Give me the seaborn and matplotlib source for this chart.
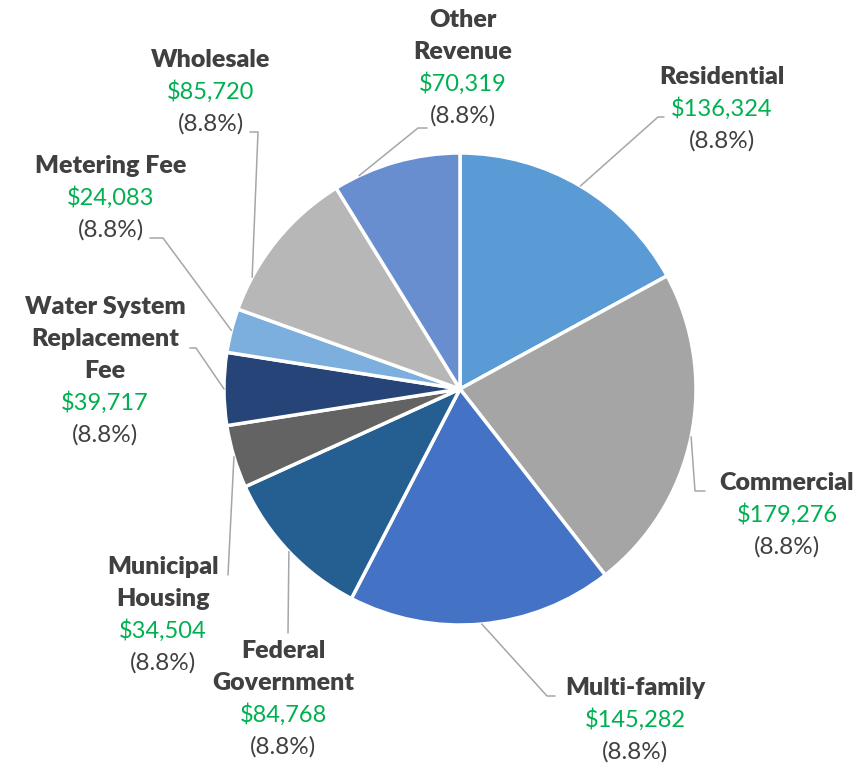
import numpy as np
import matplotlib.pyplot as plt
import seaborn as sns

# ---------------------------------------------------------------------
# Data (clockwise from 12 o'clock)
# ---------------------------------------------------------------------
categories = ["Residential", "Commercial", "Multi-family", "Federal\nGovernment",
              "Municipal\nHousing", "Water System\nReplacement\nFee",
              "Metering Fee", "Wholesale", "Other\nRevenue"]
revenue = [136324, 179276, 145282, 84768, 34504, 39717, 24083, 85720, 70319]
pct_labels = ["(8.8%)"] * 9

colors = ["#5B9BD5", "#A5A5A5", "#4472C4", "#255E91", "#636363",
          "#264478", "#7CAFDD", "#B7B7B7", "#698ED0"]

# label layout: text centre x, first line centre y (image pixels),
# leader path after the wedge point, and where along the wedge the leader starts
label_pos = [(722, 77), (787, 483), (635, 688), (283, 651), (163, 567),
             (105, 307), (111, 166), (211, 60), (463, 20)]
leader_paths = [[(658, 117), (664, 117)],
                [(695, 491), (705, 491)],
                [(547, 696), (555, 696)],
                [(288, 633)],
                [(228, 575)],
                [(196, 348), (190, 348)],
                [(163, 238), (150, 238)],
                [(258, 132), (250, 132)],
                [(418, 128), (427, 128)]]
leader_frac = [0.5, 0.5, 0.5, 0.5, 0.5, 0.5, 0.5, 0.22, 0.2]

W, H = 867, 767
CX, CY, R = 460, 389, 236
LINE = 32

sns.set_theme(style="white")
plt.rcParams['font.family'] = ['Lato', 'DejaVu Sans']

fig = plt.figure(figsize=(W / 100, H / 100), dpi=100)
ax = fig.add_axes([0, 0, 1, 1])

wedges, _ = ax.pie(revenue, colors=sns.color_palette(colors), startangle=90,
                   counterclock=False, radius=R, center=(CX, H - CY),
                   wedgeprops=dict(edgecolor="white", linewidth=2.5))
ax.set_xlim(0, W)
ax.set_ylim(0, H)
ax.set_aspect("equal")
ax.axis("off")

for i, w in enumerate(wedges):
    # leader line
    ang = np.deg2rad(w.theta2 - leader_frac[i] * (w.theta2 - w.theta1))
    xs = [CX + R * np.cos(ang)] + [p[0] for p in leader_paths[i]]
    ys = [H - CY + R * np.sin(ang)] + [H - p[1] for p in leader_paths[i]]
    ax.plot(xs, ys, color="#A6A6A6", lw=1.1, zorder=1)

    # label text
    x, y = label_pos[i]
    lines = categories[i].split("\n")
    for j, ln in enumerate(lines):
        ax.text(x, H - (y + j * LINE), ln, ha="center", va="center",
                fontsize=18, fontweight="heavy", color="#404040")
    k = len(lines)
    ax.text(x, H - (y + k * LINE), f"${revenue[i]:,}", ha="center", va="center",
            fontsize=17, color="#00B050")
    ax.text(x, H - (y + (k + 1) * LINE), pct_labels[i], ha="center", va="center",
            fontsize=17.5, color="#404040")

fig.savefig("out.png", dpi=100)
